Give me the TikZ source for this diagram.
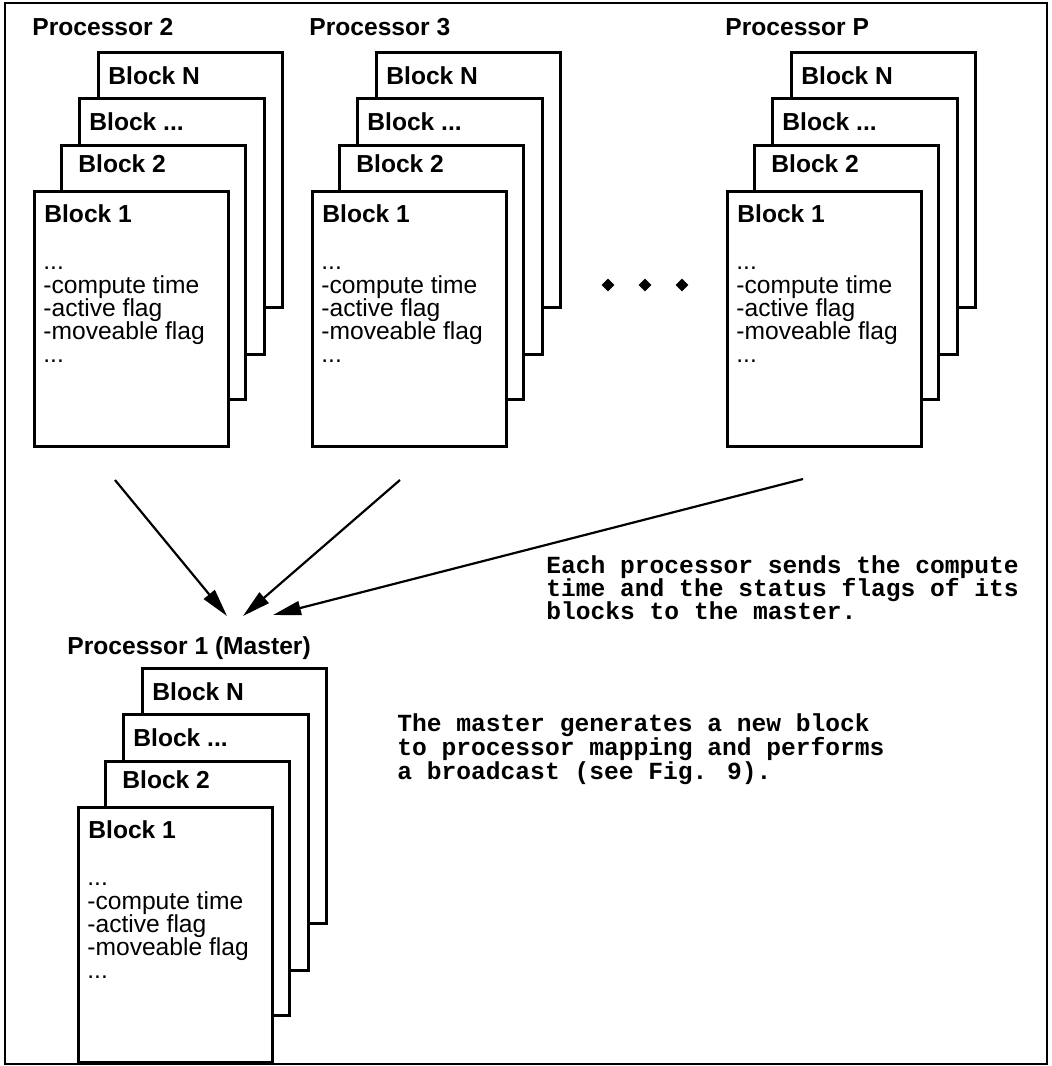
\documentclass[tikz,border=0pt]{standalone}
\usepackage{fontspec}
\setmainfont{Liberation Sans}
\newfontfamily\cmono{Liberation Mono}
\usetikzlibrary{arrows.meta,shapes.geometric}
\tikzset{
  blk/.style={draw=black, fill=white, line width=1.3pt, inner sep=0, anchor=north west},
  btitle/.style={anchor=base west, inner sep=0, font=\fontsize{12.3}{14}\selectfont\bfseries},
  bline/.style={anchor=base west, inner sep=0, font=\fontsize{12.3}{14}\selectfont},
  ptitle/.style={anchor=base west, inner sep=0, font=\fontsize{12.3}{14}\selectfont\bfseries},
  note/.style={anchor=base west, inner sep=0, font=\fontsize{12.3}{14}\cmono\bfseries},
  flow/.style={line width=1.1pt, -{Triangle[length=14pt,width=7pt]}},
  dotd/.style={diamond, fill=black, inner sep=0, minimum size=6.5pt}
}
% #1 prefix, #2 x, #3 y of Block 1 top-left corner
\newcommand\blockstack[3]{%
  \begin{scope}[shift={(#2,#3)}]
    \node[blk, minimum width=92pt, minimum height=127.5pt] (#1-bN) at (64,-139) {};
    \node[btitle] (#1-tN) at (75,-106) {Block N};
    \node[blk, minimum width=92.5pt, minimum height=128pt] (#1-bD) at (45,-93) {};
    \node[btitle] (#1-tD) at (56,-60) {Block ...};
    \node[blk, minimum width=92pt, minimum height=127pt] (#1-b2) at (27,-46) {};
    \node[btitle] (#1-t2) at (45,-18) {Block 2};
    \node[blk, minimum width=97pt, minimum height=127.5pt] (#1-b1) at (0,0) {};
    \node[btitle] (#1-t1) at (11,32) {Block 1};
    \node[bline] (#1-l1) at (10,79) {...};
    \node[bline] (#1-l2) at (10,103) {-compute time};
    \node[bline] (#1-l3) at (10,126) {-active flag};
    \node[bline] (#1-l4) at (10,149) {-moveable flag};
    \node[bline] (#1-l5) at (10,172) {...};
  \end{scope}}
\begin{document}
\begin{tikzpicture}[x=0.5pt,y=-0.5pt]
\useasboundingbox (0,0) rectangle (1052,1066);
\draw[line width=1pt] (5,3) rectangle (1047,1064);

\node[ptitle] (p2) at (32,35) {Processor 2};
\node[ptitle] (p3) at (309,35) {Processor 3};
\node[ptitle] (pP) at (725,35) {Processor P};
\blockstack{a}{33}{190}
\blockstack{b}{311}{190}
\blockstack{c}{726}{190}

\node[dotd] (d1) at (608,285) {};
\node[dotd] (d2) at (645,285) {};
\node[dotd] (d3) at (682,285) {};

\coordinate (s1) at (115,480);
\coordinate (s2) at (400,480);
\coordinate (s3) at (803,479);
\coordinate (e1) at (227,616);
\coordinate (e2) at (243,616);
\coordinate (e3) at (273,615);
\draw[flow] (s1) -- (e1);
\draw[flow] (s2) -- (e2);
\draw[flow] (s3) -- (e3);

\node[note] (n1) at (546,573) {Each processor sends the compute};
\node[note] (n2) at (546,596) {time and the status flags of its};
\node[note] (n3) at (546,619) {blocks to the master.};

\node[ptitle] (p1) at (67,654) {Processor 1 (Master)};
\blockstack{m}{77}{806}

\node[note] (m1) at (397,731) {The master generates a new block};
\node[note] (m2) at (397,755) {to processor mapping and performs};
\node[note] (m3) at (397,779) {a broadcast (see Fig. 9).};
\end{tikzpicture}
\end{document}
